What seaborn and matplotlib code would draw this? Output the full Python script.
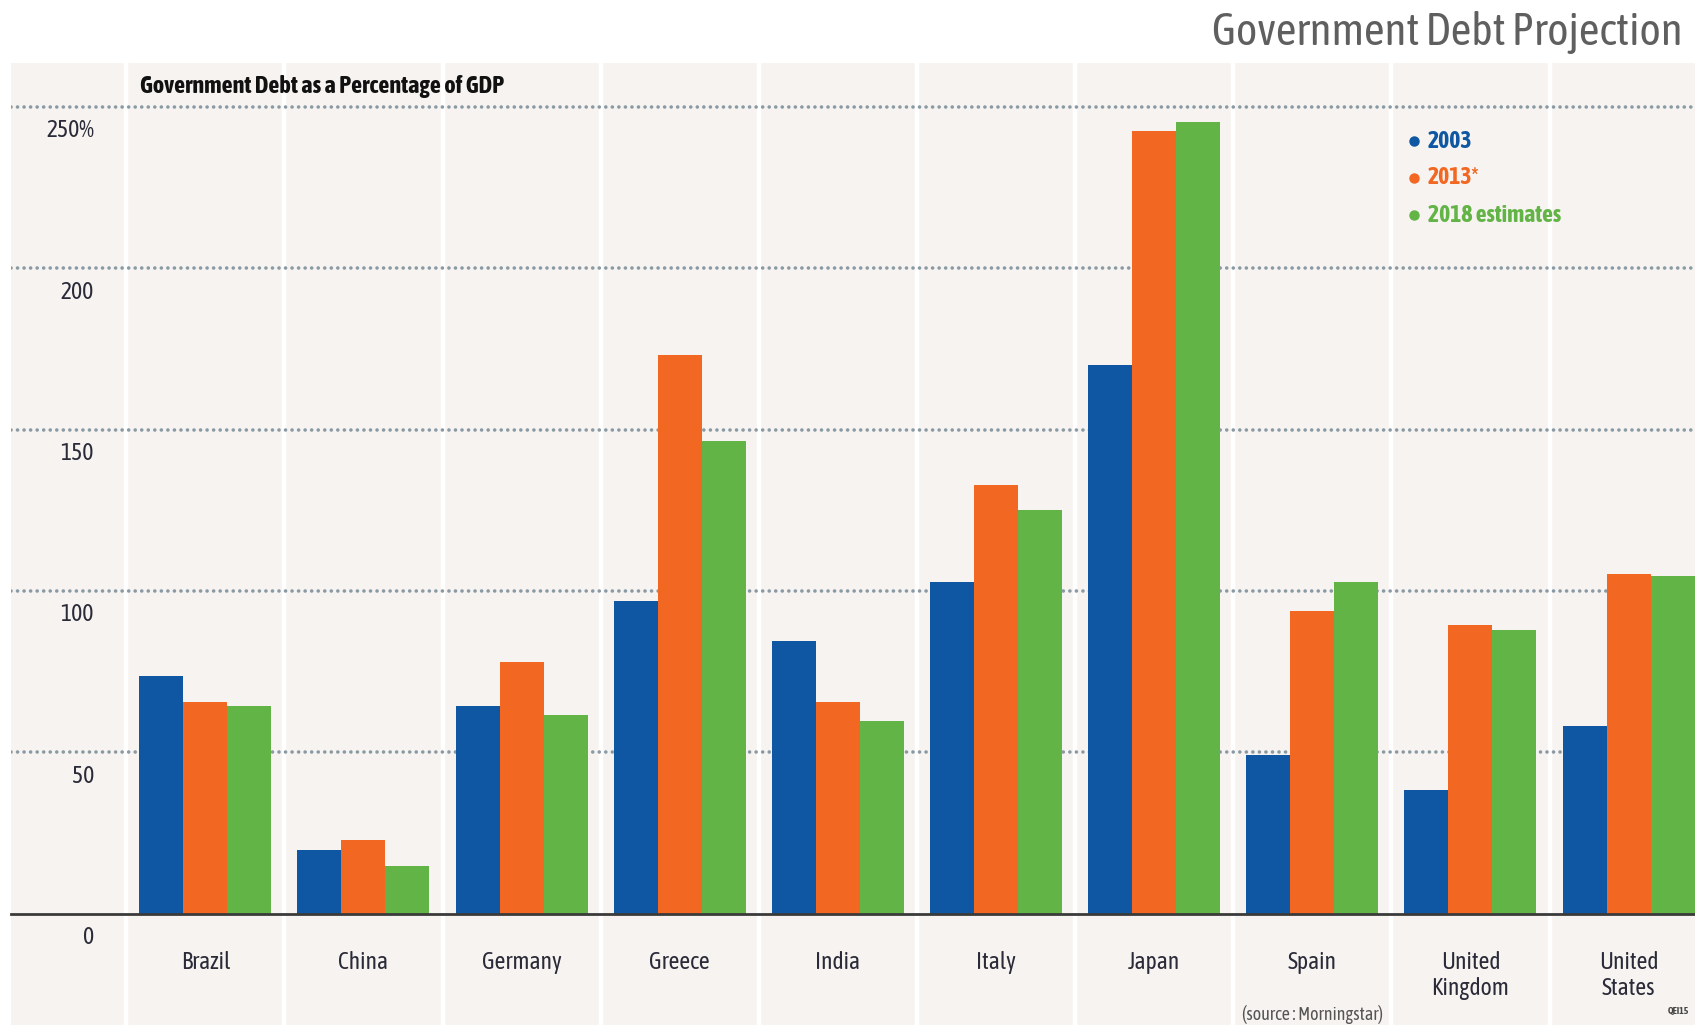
import matplotlib
matplotlib.use("Agg")
import matplotlib.pyplot as plt
from matplotlib import font_manager
from matplotlib.lines import Line2D
from matplotlib.transforms import blended_transform_factory
import seaborn as sns
import pandas as pd

# Debt as % of GDP by country
countries = ["Brazil", "China", "Germany", "Greece", "India", "Italy",
             "Japan", "Spain", "United\nKingdom", "United\nStates"]
debt_2003 = [73.7, 19.8, 64.3, 96.8, 84.4, 102.9, 169.9, 49.3, 38.2, 58.3]
debt_2013 = [65.7, 22.8, 78.1, 173.2, 65.7, 132.7, 242.6, 93.8, 89.5, 105.2]
debt_2018 = [64.3, 14.7, 61.7, 146.6, 59.6, 125.0, 245.4, 102.9, 87.8, 104.6]
series_labels = ["2003", "2013*", "2018 estimates"]
y_ticks = [0, 50, 100, 150, 200, 250]
y_tick_labels = ["0", "50", "100", "150", "200", "250%"]

colors = ["#0f57a2", "#f26722", "#63b446"]
panel_bg = "#f6f3f0"
text_dark = "#2a2a38"

df = pd.DataFrame({
    "country": countries * 3,
    "series": sum([[s] * len(countries) for s in series_labels], []),
    "debt": debt_2003 + debt_2013 + debt_2018,
})

sns.set_style("white")


def _weight(w):
    if isinstance(w, str):
        return font_manager.weight_dict.get(w, 400)
    return int(w)


# prefer a narrow/condensed face; favour families that also ship a bold cut
narrow = {}
for f in font_manager.fontManager.ttflist:
    n = f.name
    if "narrow" in n.lower() or "condensed" in n.lower():
        narrow.setdefault(n, set()).add(_weight(f.weight))
ranked = sorted(narrow, key=lambda n: (max(narrow[n]) < 600, n))
families = ranked + ["DejaVu Sans"]
plt.rcParams["font.family"] = families
plt.rcParams["font.stretch"] = "condensed"

W, H = 1695, 1025
fig = plt.figure(figsize=(W / 100, H / 100), dpi=100, facecolor="white")
ax = fig.add_axes([10.8 / W, 0, 1 - 10.8 / W, 1 - 62.7 / H])
ax.set_facecolor(panel_bg)

sns.barplot(data=df, x="country", y="debt", hue="series",
            hue_order=series_labels, palette=colors, width=0.835,
            saturation=1, errorbar=None, legend=False, ax=ax, zorder=3,
            linewidth=0)

ax.set_xlim(-1.23, 9.42)
ax.set_ylim(-34.5, 263.7)

# white column separators between countries
for i in range(len(countries)):
    ax.axvline(i - 0.5, color="white", lw=3.2, zorder=0.5)

# dotted horizontal grid
for v in y_ticks[1:]:
    ax.axhline(v, color="#8a9aa4", lw=2.6, linestyle=(0, (0.01, 1.8)),
               dash_capstyle="round", zorder=1)

for s in ["top", "right", "left"]:
    ax.spines[s].set_visible(False)
ax.spines["bottom"].set_position(("data", 0))
ax.spines["bottom"].set_color("#3a3a3a")
ax.spines["bottom"].set_linewidth(2)
ax.spines["bottom"].set_zorder(4)

ax.set_xlabel("")
ax.set_ylabel("")
ax.set_yticks([])
ax.tick_params(axis="x", length=0, pad=27, labelsize=17, labelcolor=text_dark)
for lbl in ax.get_xticklabels():
    lbl.set_linespacing(1.15)
    lbl.set_verticalalignment("top")

# y labels sit just below their gridline, inside the panel
tr = blended_transform_factory(ax.transAxes, ax.transData)
for v, lab in zip(y_ticks, y_tick_labels):
    ax.annotate(lab, xy=(0.0494, v), xycoords=tr, xytext=(0, -9),
                textcoords="offset points", ha="right", va="top",
                fontsize=17, color=text_dark)

# headings
fig.text(1683 / W, 1 - 32 / H, "Government Debt Projection", ha="right",
         va="center", fontsize=32.5, color="#5f5f5f")
fig.text(140 / W, 1 - 86.5 / H, "Government Debt as a Percentage of GDP",
         ha="left", va="center", fontsize=17.5, fontweight="bold",
         color="#111111")

# legend
for k, (lab, c) in enumerate(zip(series_labels, colors)):
    yy = 1 - (141 + 37 * k) / H
    fig.add_artist(Line2D([1414 / W], [yy], marker="o", markersize=6.5,
                          color=c, linestyle="none",
                          transform=fig.transFigure))
    fig.text(1428 / W, yy, lab, ha="left", va="center", fontsize=17,
             fontweight="bold", color=c)

# footnotes
fig.text(1313 / W, 1 - 1014 / H, "(source : Morningstar)", ha="center",
         va="center", fontsize=13, color="#555555")
fig.text(1678 / W, 1 - 1011 / H, "QEI15", ha="center", va="center",
         fontsize=7, fontweight="bold", color="#444444")

fig.savefig("out.png", dpi=100, facecolor="white")
